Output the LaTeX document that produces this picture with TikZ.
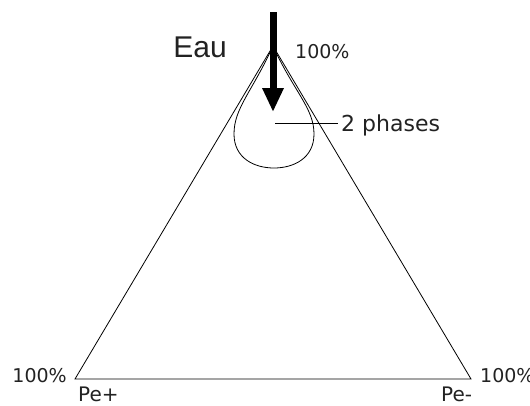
\documentclass[tikz,border=0pt]{standalone}
\usepackage{fontspec}
\setmainfont{DejaVu Sans}
\newfontfamily\arialfont{Liberation Sans}
\usetikzlibrary{arrows.meta, calc}
\definecolor{inkgray}{RGB}{34,34,34}
\tikzset{
    phaseline/.style={draw=black, line width=0.8pt},
    pctlabel/.style={text=inkgray, inner sep=0pt, font=\fontsize{19}{22}\selectfont},
    complabel/.style={text=inkgray, inner sep=0pt, font=\fontsize{20}{23}\selectfont},
    flowarrow/.style={-{Triangle[length=24pt, width=20pt]}, line width=7pt, black}
}

\begin{document}
\begin{tikzpicture}[x=1pt, y=-1pt]
\useasboundingbox (0,0) rectangle (530,405);

\coordinate (apex) at (273,46);
\coordinate (leftV) at (75,379);
\coordinate (rightV) at (471,379);
\coordinate (dropC) at (275,123);
\coordinate (arrowTop) at (273,12);
\coordinate (arrowTip) at (273,112);

\node[pctlabel, anchor=base west] (topPct) at (295,58) {100\%};
\node[pctlabel, anchor=base east] (leftPct) at (67,382) {100\%};
\node[pctlabel, anchor=base west] (rightPct) at (480,382) {100\%};
\node[complabel, anchor=base west] (pePlus) at (78,401) {Pe+};
\node[complabel, anchor=base west] (peMinus) at (441,401) {Pe-};
\node[text=inkgray, inner sep=0pt, anchor=base east, font=\arialfont\fontsize{30}{34}\selectfont] (eau) at (227,57) {Eau};
\node[text=inkgray, inner sep=3pt, anchor=base west, font=\fontsize{22}{26}\selectfont] (phases) at (338,131) {2 phases};

% ternary triangle
\draw[phaseline] (apex) -- (leftV) -- (rightV) -- cycle;

% two-phase region
\draw[phaseline] (apex) .. controls (252,92) and (234,108) .. (234,134)
    .. controls (234,158) and (254,168) .. (274,168)
    .. controls (294,168) and (314,158) .. (314,134)
    .. controls (314,108) and (294,92) .. (apex);
\draw[phaseline] (dropC) -- (dropC -| phases.west);

\draw[flowarrow] (arrowTop) -- (arrowTip);

\end{tikzpicture}
\end{document}
